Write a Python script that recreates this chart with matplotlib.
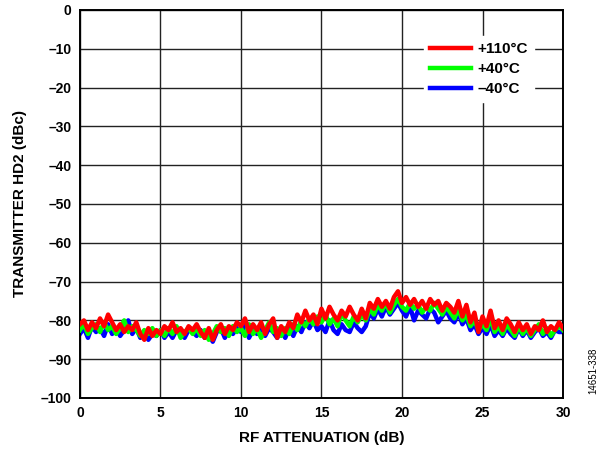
import matplotlib
matplotlib.use('Agg')
import matplotlib.pyplot as plt
import numpy as np

plt.rcParams['font.family'] = ['Liberation Sans', 'DejaVu Sans']

# RF attenuation sweep, 0 to 30 dB in 0.25 dB steps
atten = np.linspace(0, 30, 121)

# HD2 (dBc), ten points (2.5 dB) per row
hd2_110c = [
    -81.0, -80.0, -82.5, -80.5, -82.0, -79.5, -81.5, -78.5, -80.5, -82.5,
    -81.0, -83.0, -81.5, -82.5, -80.5, -83.5, -85.0, -82.0, -84.0, -82.5,
    -83.5, -81.5, -82.5, -80.5, -83.0, -82.0, -83.5, -81.5, -82.5, -81.0,
    -83.0, -84.5, -82.0, -85.0, -82.5, -81.0, -83.5, -81.5, -82.5, -80.5,
    -81.5, -79.5, -83.0, -81.0, -82.5, -80.5, -83.5, -81.0, -79.5, -84.5,
    -81.5, -83.0, -80.5, -82.0, -78.5, -80.5, -77.5, -80.0, -78.5, -81.0,
    -77.0, -79.5, -76.5, -78.5, -80.0, -77.5, -79.0, -76.5, -78.5, -80.0,
    -77.0, -79.5, -75.5, -77.0, -74.5, -76.5, -75.0, -77.0, -74.0, -72.5,
    -75.5, -74.0, -76.0, -74.5, -76.5, -75.0, -77.0, -74.5, -76.0, -75.0,
    -77.5, -75.5, -76.5, -78.0, -75.0, -79.0, -76.0, -80.5, -78.0, -83.0,
    -79.0, -81.5, -77.5, -82.0, -80.0, -82.5, -79.5, -81.0, -83.0, -80.5,
    -82.5, -81.0, -83.5, -81.5, -82.5, -80.0, -83.0, -81.5, -82.5, -80.5,
    -82.0,
]

hd2_40c = [
    -82.5, -81.0, -83.5, -82.0, -81.0, -83.0, -80.5, -82.5, -81.5, -83.5,
    -82.0, -80.0, -83.0, -81.5, -82.5, -84.0, -82.5, -83.5, -82.0, -84.0,
    -82.5, -84.0, -82.0, -83.5, -81.5, -84.5, -83.0, -82.0, -83.5, -82.0,
    -84.0, -82.5, -85.0, -83.5, -81.5, -83.0, -82.0, -84.0, -81.5, -83.0,
    -82.0, -84.0, -81.0, -83.5, -82.0, -84.5, -82.5, -80.5, -83.0, -82.0,
    -84.0, -82.0, -83.5, -81.0, -82.5, -80.0, -81.5, -79.5, -81.0, -79.0,
    -80.5, -78.5, -81.0, -79.5, -81.5, -78.0, -80.0, -81.5, -79.0, -80.5,
    -78.5, -80.0, -77.0, -78.5, -76.0, -77.5, -75.5, -78.0, -76.0, -74.5,
    -76.5, -77.5, -75.5, -77.0, -76.0, -78.0, -76.5, -77.5, -75.5, -77.0,
    -78.5, -76.5, -78.0, -79.5, -77.0, -80.0, -78.5, -81.5, -80.0, -82.5,
    -81.0, -82.5, -79.5, -83.0, -81.5, -83.5, -81.0, -82.5, -84.0, -81.5,
    -83.5, -82.0, -84.0, -82.5, -81.0, -83.5, -82.0, -84.0, -82.5, -81.5,
    -82.5,
]

hd2_m40c = [
    -83.5, -82.0, -84.5, -81.5, -83.0, -82.0, -84.0, -81.0, -83.5, -82.0,
    -84.0, -82.5, -80.0, -83.5, -82.0, -84.5, -83.0, -85.0, -83.5, -84.0,
    -82.5, -84.5, -83.0, -84.5, -82.5, -83.5, -84.5, -82.5, -83.0, -84.0,
    -82.5, -84.5, -83.5, -85.5, -83.0, -82.0, -84.5, -82.5, -83.5, -82.0,
    -83.0, -81.0, -84.5, -82.5, -83.5, -81.5, -84.0, -82.0, -83.0, -84.5,
    -82.5, -84.5, -82.0, -84.0, -81.5, -83.0, -80.5, -82.0, -80.0, -82.5,
    -81.5, -83.0, -80.0, -82.5, -83.5, -81.0, -82.5, -83.0, -80.5, -82.0,
    -83.0, -81.5, -78.0, -79.5, -77.0, -79.0, -76.5, -78.5, -77.0, -75.5,
    -77.5, -79.0, -76.5, -80.0, -77.5, -78.5, -79.5, -77.0, -78.0, -80.5,
    -79.0, -77.5, -79.5, -80.5, -78.0, -81.0, -79.5, -82.5, -81.0, -83.5,
    -82.0, -83.5, -81.0, -84.0, -82.5, -84.0, -82.0, -83.5, -84.5, -82.0,
    -84.0, -82.5, -84.5, -83.0, -82.0, -84.0, -83.0, -84.5, -82.5, -83.0,
    -83.0,
]

labels = ['+110°C', '+40°C', '–40°C']
colors = ['#ff0000', '#00ff00', '#0000ff']

x_ticks = [0, 5, 10, 15, 20, 25, 30]
y_ticks = [0, -10, -20, -30, -40, -50, -60, -70, -80, -90, -100]

fig = plt.figure(figsize=(6.1, 4.5), dpi=100)
ax = fig.add_axes([0.131, 0.1156, 0.792, 0.8622])

series = [hd2_110c, hd2_40c, hd2_m40c]
handles = []
# blue underneath, red on top
for vals, lab, col, z in zip(series, labels, colors, [4, 3, 2]):
    h, = ax.plot(atten, vals, color=col, linewidth=3.2, label=lab, zorder=z,
                 solid_joinstyle='round')
    handles.append(h)

ax.set_xlim(0, 30)
ax.set_ylim(-100, 0)
ax.set_xticks(x_ticks)
ax.set_yticks(y_ticks)
ax.set_xticklabels([str(t) for t in x_ticks], fontweight='bold', fontsize=10)
ax.set_yticklabels([str(t).replace('-', '–') for t in y_ticks],
                   fontweight='bold', fontsize=10)
ax.tick_params(length=0, pad=6)
ax.grid(True, color='#222222', linewidth=1.0)
ax.set_axisbelow(True)
for s in ax.spines.values():
    s.set_linewidth(1.4)

ax.set_xlabel('RF ATTENUATION (dB)', fontweight='bold', fontsize=11,
              labelpad=8)
ax.set_ylabel('TRANSMITTER HD2 (dBc)', fontweight='bold', fontsize=11,
              labelpad=10)

leg = ax.legend(handles=handles, loc='upper left',
                bbox_to_anchor=(0.712, 0.933), frameon=True, fancybox=False,
                framealpha=1, edgecolor='white', fontsize=11,
                handlelength=2.7, handletextpad=0.4, labelspacing=0.4,
                borderpad=0.4, borderaxespad=0)
for t in leg.get_texts():
    t.set_fontweight('bold')
for l in leg.get_lines():
    l.set_linewidth(3.2)
leg.set_zorder(10)

fig.text(0.972, 0.175, '14651-338', rotation=90, fontsize=7,
         ha='center', va='center')

fig.savefig('out.png', dpi=100)
